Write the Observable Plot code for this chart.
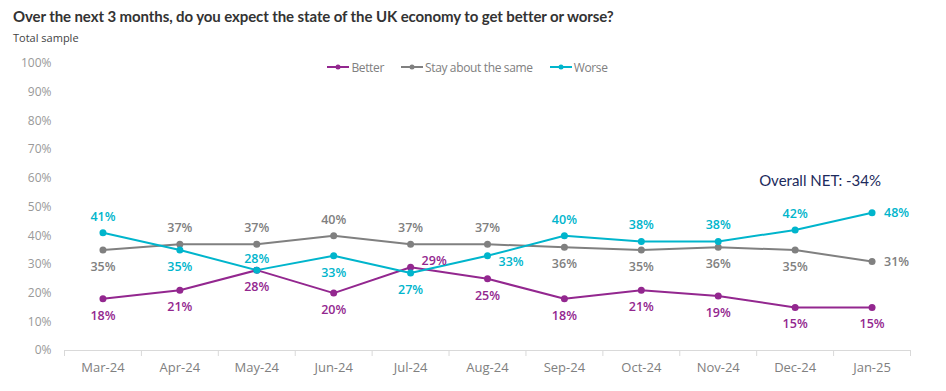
<!DOCTYPE html>
<html><head><meta charset="utf-8">
<script src="https://cdn.jsdelivr.net/npm/d3@7"></script>
<script src="https://cdn.jsdelivr.net/npm/@observablehq/plot@0.6"></script>
<style>
body{margin:0;background:#fff;}
#wrap{position:relative;width:946px;height:391px;}
#title{position:absolute;left:13px;top:7px;font:bold 15px Lato,sans-serif;color:#333;white-space:nowrap;letter-spacing:-0.1px;}
#sub{position:absolute;left:13px;top:30px;font:11px "Open Sans",sans-serif;color:#444;}
#chart{position:absolute;left:0;top:45px;}
#legend{position:absolute;top:58px;left:-6px;width:946px;text-align:center;font:12px "Open Sans",sans-serif;color:#808080;letter-spacing:-0.35px;}
#legend span{display:inline-flex;align-items:center;margin:0 8px;}
#legend svg{margin-right:1px;}
</style></head>
<body><div id="wrap">
<div id="title">Over the next 3 months, do you expect the state of the UK economy to get better or worse?</div>
<div id="sub">Total sample</div>
<div id="chart"></div>
<div id="legend"></div>
</div>
<script>
const months = ["Mar-24","Apr-24","May-24","Jun-24","Jul-24","Aug-24","Sep-24","Oct-24","Nov-24","Dec-24","Jan-25"];
const seriesNames = ["Better","Stay about the same","Worse"];
const better = [18,21,28,20,29,25,18,21,19,15,15];
const same   = [35,37,37,40,37,37,36,35,36,35,31];
const worse  = [41,35,28,33,27,33,40,38,38,42,48];
const colors = ["#93278f","#808080","#00b5cc"];
// label placement for each value: a=above, b=below, r=right, ru=right-up, rd=right-down
const betterPlace = ["b","b","b","b","ru","b","b","b","b","b","b"];
const samePlace   = ["b","a","a","a","a","a","b","b","b","b","r"];
const worsePlace  = ["a","b","a2","b","b","rd","a","a","a","a","r"];
const yTicks = [0,10,20,30,40,50,60,70,80,90,100];
const netLabel = "Overall NET: -34%";
const netValue = 59;

const all = [better, same, worse];
const places = [betterPlace, samePlace, worsePlace];
const data = [];
all.forEach((vals, s) => vals.forEach((v, i) => data.push({s: seriesNames[s], i, v, p: places[s][i], c: colors[s]})));

const lineMarks = seriesNames.map((n, s) => Plot.line(data.filter(d => d.s === n), {x: "i", y: "v", stroke: colors[s], strokeWidth: 2}));
const dotMarks = seriesNames.map((n, s) => Plot.dot(data.filter(d => d.s === n), {x: "i", y: "v", fill: colors[s], r: 3.5}));
const labelSets = [
  ["a", {dy: -16, textAnchor: "middle"}],
  ["a2", {dy: -11, textAnchor: "middle"}],
  ["b", {dy: 17, textAnchor: "middle"}],
  ["r", {dx: 12, dy: 0, textAnchor: "start"}],
  ["ru", {dx: 11, dy: -6, textAnchor: "start"}],
  ["rd", {dx: 11, dy: 6, textAnchor: "start"}]
];
const labelMarks = labelSets.map(([p, o]) => Plot.text(data.filter(d => d.p === p), {
  x: "i", y: "v", text: d => d.v + "%", fill: "c", fontSize: 12.5, fontWeight: 600, ...o
}));
const bounds = d3.range(months.length + 1).map(i => i - 0.5);

const chart = Plot.plot({
  width: 946, height: 346,
  marginLeft: 64, marginRight: 36, marginTop: 18, marginBottom: 41,
  style: {fontFamily: "'Open Sans', sans-serif", fontSize: "12px", color: "#999", background: "transparent"},
  x: {type: "linear", domain: [-0.5, months.length - 0.5]},
  y: {domain: [0, 100]},
  marks: [
    Plot.axisY(yTicks, {tickSize: 0, tickPadding: 13, tickFormat: d => d + "%", label: null, fill: "#999"}),
    Plot.ruleY([0], {stroke: "#d9d9d9", strokeWidth: 1}),
    Plot.axisX(bounds, {tickSize: 6, tickFormat: () => "", stroke: "#d9d9d9", label: null}),
    Plot.axisX(d3.range(months.length), {tickSize: 0, tickPadding: 12, tickFormat: i => months[i], label: null, fill: "#808080", fontSize: 13}),
    ...lineMarks,
    ...dotMarks,
    ...labelMarks,
    Plot.text([netLabel], {x: () => months.length - 1, y: () => netValue, text: d => d, textAnchor: "end", dx: 9, fill: "#1c2a5c", fontSize: 15, fontFamily: "Lato, sans-serif"})
  ]
});
document.getElementById("chart").appendChild(chart);

const leg = document.getElementById("legend");
seriesNames.forEach((n, s) => {
  const span = document.createElement("span");
  span.innerHTML = `<svg width="24" height="8"><line x1="1" x2="23" y1="4" y2="4" stroke="${colors[s]}" stroke-width="2"/><circle cx="12" cy="4" r="2.5" fill="${colors[s]}"/></svg>${n}`;
  leg.appendChild(span);
});
</script>
</body></html>
